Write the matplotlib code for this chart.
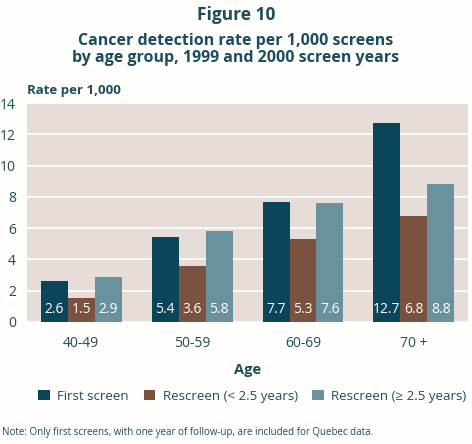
import matplotlib
matplotlib.use("Agg")
import matplotlib.pyplot as plt
import numpy as np

categories = ["40-49", "50-59", "60-69", "70 +"]
series_names = ["First screen", "Rescreen (< 2.5 years)", "Rescreen (\u2265 2.5 years)"]
first_screen = [2.6, 5.4, 7.7, 12.7]
rescreen_lt = [1.5, 3.6, 5.3, 6.8]
rescreen_ge = [2.9, 5.8, 7.6, 8.8]
yticks = [0, 2, 4, 6, 8, 10, 12, 14]

colors = ["#0b4559", "#7b513f", "#6a929e"]
text_color = "#1b4d60"
plt.rcParams['font.family'] = ['Open Sans', 'DejaVu Sans']

fig = plt.figure(figsize=(4.72, 4.44), dpi=100)
fig.patch.set_facecolor("#fffefb")
ax = fig.add_axes([0.057, 0.275, 0.935, 0.493])
ax.set_facecolor("#e6ddd8")

x = np.arange(len(categories))
w = 0.243
all_series = [first_screen, rescreen_lt, rescreen_ge]
for i, (vals, name, c) in enumerate(zip(all_series, series_names, colors)):
    pos = x + (i - 1) * w
    ax.bar(pos, vals, width=w, color=c, label=name, zorder=3)
    for p, v in zip(pos, vals):
        ax.text(p, 0.3, f"{v:.1f}", ha="center", va="bottom", color="white",
                fontsize=10, zorder=4)

ax.set_ylim(0, 14)
ax.set_xlim(-0.49, 3.49)
ax.set_yticks(yticks)
ax.set_yticklabels([str(t) for t in yticks], color=text_color, fontsize=10)
ax.set_xticks(x)
ax.set_xticklabels(categories, color=text_color, fontsize=10)
ax.tick_params(axis="x", length=0, pad=10)
ax.tick_params(axis="y", length=0, pad=8)
ax.yaxis.grid(True, color="white", linewidth=1.2, zorder=1)
ax.set_axisbelow(True)
for s in ax.spines.values():
    s.set_visible(False)

ax.set_xlabel("Age", color=text_color, fontsize=10.5, fontweight="bold", labelpad=9)

fig.text(0.5, 0.966, "Figure 10", ha="center", va="center", color=text_color,
         fontsize=12.5, fontweight="bold")
fig.text(0.5, 0.889, "Cancer detection rate per 1,000 screens\nby age group, 1999 and 2000 screen years",
         ha="center", va="center", color=text_color, fontsize=11.5, fontweight="bold",
         linespacing=1.1)
fig.text(0.057, 0.797, "Rate per 1,000", ha="left", va="center", color=text_color,
         fontsize=9.5, fontweight="bold")

leg = fig.legend(loc="center", bbox_to_anchor=(0.535, 0.108), ncol=3, frameon=False,
                 fontsize=9.5, handlelength=0.9, handleheight=0.9, columnspacing=1.1,
                 handletextpad=0.55)
for t in leg.get_texts():
    t.set_color(text_color)

fig.text(0.004, 0.026, "Note: Only first screens, with one year of follow-up, are included for Quebec data.",
         ha="left", va="center", color=text_color, fontsize=7)

fig.savefig("out.png", dpi=100, facecolor=fig.get_facecolor())
